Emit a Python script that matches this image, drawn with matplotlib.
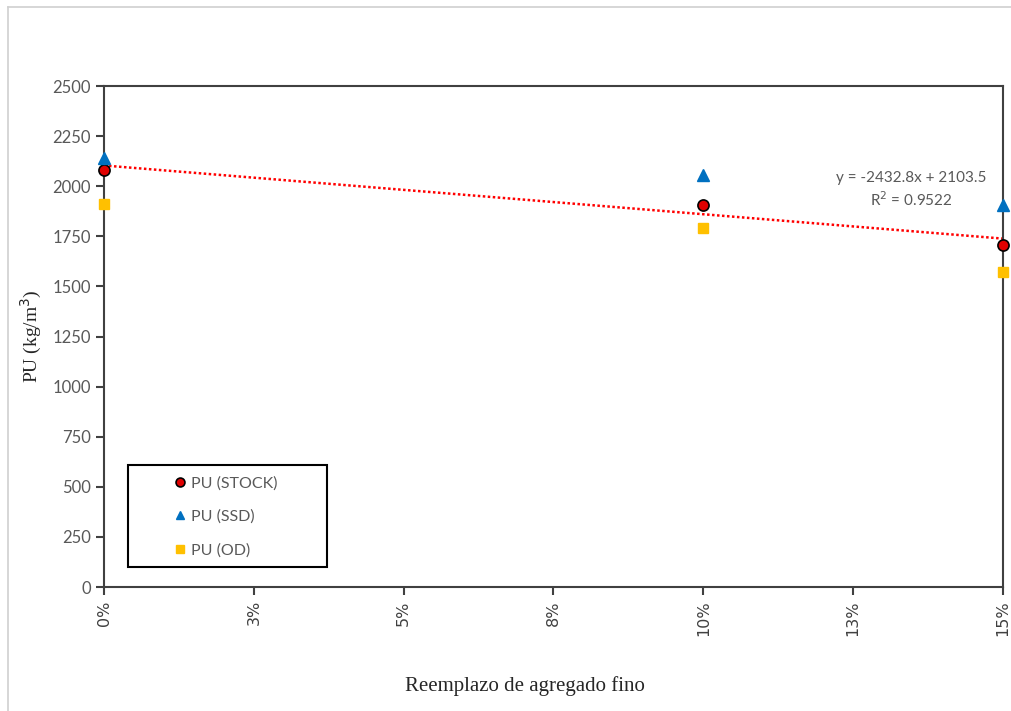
import numpy as np
import matplotlib
matplotlib.use('Agg')
import matplotlib.pyplot as plt
from matplotlib.lines import Line2D
from matplotlib.patches import Rectangle

# Data
reemplazo = [0.0, 0.10, 0.15]
pu_stock = [2081, 1906, 1707]
pu_ssd = [2141, 2056, 1906]
pu_od = [1911, 1791, 1572]

x_ticks = [0.0, 0.025, 0.05, 0.075, 0.10, 0.125, 0.15]
x_tick_labels = ['0%', '3%', '5%', '8%', '10%', '13%', '15%']
y_ticks = list(range(0, 2501, 250))

# Linear trend shown on the chart
slope = -2432.8
intercept = 2103.5

grey = '#595959'
sans = ['Lato', 'DejaVu Sans']
serif = ['Liberation Serif', 'DejaVu Serif']

fig = plt.figure(figsize=(10.12, 7.11), dpi=100)
ax = fig.add_axes([0.1028, 0.1744, 0.8882, 0.7046])

# Trendline
xt = np.array([reemplazo[0], reemplazo[-1]])
ax.plot(xt, slope * xt + intercept, color='red', linestyle=(0, (1, 1)),
        linewidth=1.8, zorder=2)

ax.plot(reemplazo, pu_stock, 'o', color='#E00000', markeredgecolor='black',
        markeredgewidth=1.2, markersize=8, label='PU (STOCK)', zorder=3, clip_on=False)
ax.plot(reemplazo, pu_ssd, '^', color='#0070C0', markeredgecolor='#0070C0',
        markersize=8, label='PU (SSD)', zorder=3, clip_on=False)
ax.plot(reemplazo, pu_od, 's', color='#FFC000', markeredgecolor='#FFC000',
        markersize=7, label='PU (OD)', zorder=3, clip_on=False)

ax.set_xlim(0, 0.15)
ax.set_ylim(0, 2500)
ax.set_xticks(x_ticks)
ax.set_xticklabels(x_tick_labels, rotation=90, fontsize=11.5, color='#404040',
                   family=['DejaVu Sans'])
ax.set_yticks(y_ticks)
ax.set_yticklabels([str(v) for v in y_ticks], fontsize=12, color=grey, family=sans)
ax.tick_params(axis='both', direction='out', length=6, width=1.5, color='#404040')

for s in ax.spines.values():
    s.set_color('#404040')
    s.set_linewidth(1.5)

ax.set_xlabel('Reemplazo de agregado fino', fontsize=15, family=serif,
              color='#262626')
ax.xaxis.set_label_coords(0.468, -0.178)
ax.set_ylabel('PU (kg/m$^3$)', fontsize=14, family=serif, color='#262626',
              labelpad=6)

ax.text(0.1347, 1981, 'y = -2432.8x + 2103.5\nR$^2$ = 0.9522', fontsize=11,
        color=grey, family=sans, ha='center', va='center', linespacing=1.3)

# legend frame drawn separately so it can match the original box
ax.add_patch(Rectangle((0.0267, 0.040), 0.2214, 0.2036, transform=ax.transAxes,
                       facecolor='white', edgecolor='black', linewidth=1.5,
                       zorder=4))
leg = ax.legend(loc='upper left', bbox_to_anchor=(0.0774, 0.2215),
                frameon=False, borderpad=0, borderaxespad=0,
                handlelength=0.8, handletextpad=0.3, labelspacing=1.2,
                markerscale=0.8, prop={'family': sans, 'size': 11.5})
leg.set_zorder(5)
for t in leg.get_texts():
    t.set_color(grey)

# faint outer frame on top and left
fig.add_artist(Line2D([0.008, 1.0], [0.990, 0.990], color='#d0d0d0', linewidth=1.2))
fig.add_artist(Line2D([0.008, 0.008], [0.0, 0.990], color='#d0d0d0', linewidth=1.2))

fig.savefig('out.png', dpi=100)
